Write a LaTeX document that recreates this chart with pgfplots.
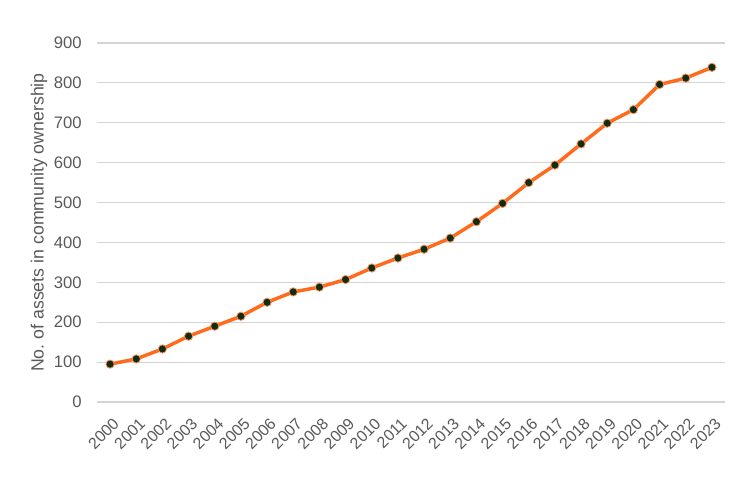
\documentclass[border=0pt]{standalone}
\usepackage{pgfplots}
\pgfplotsset{compat=1.18}
\usepackage{fontspec}
\setmainfont{Liberation Sans}

\definecolor{lineorange}{HTML}{FF6A1C}
\definecolor{dotgreen}{HTML}{0E2E14}
\definecolor{textgray}{HTML}{595959}
\definecolor{gridgray}{HTML}{D4D4D4}

\begin{document}
\begin{tikzpicture}
\begin{axis}[
    scale only axis,
    width=471pt, height=269.25pt,
    xmin=-0.5, xmax=23.5,
    ymin=0, ymax=900,
    ytick={0,100,...,900},
    xtick={0,...,23},
    xticklabels={2000,2001,2002,2003,2004,2005,2006,2007,2008,2009,2010,2011,
                 2012,2013,2014,2015,2016,2017,2018,2019,2020,2021,2022,2023},
    x tick label style={yshift=-11pt, xshift=1.5pt, rotate=45, anchor=north east, inner sep=0pt,
        font=\fontsize{12}{14}\selectfont},
    y tick label style={xshift=-8pt, font=\fontsize{12.5}{14}\selectfont},
    ticklabel style={text=textgray},
    /pgf/number format/assume math mode=true,
    axis line style={draw=none},
    major tick length=0pt,
    ymajorgrids,
    grid style={gridgray, line width=0.8pt},
    ylabel={No.\ of assets in community ownership},
    ylabel style={font=\fontsize{13.3}{15}\selectfont, text=textgray, yshift=-2pt},
    clip=false,
]
\addplot[color=lineorange, line width=2.6pt, mark=*, mark size=3.1pt,
    mark options={fill=dotgreen, draw=lineorange!75, line width=0.6pt}]
coordinates {
(0,95) (1,108) (2,133) (3,165) (4,190) (5,215) (6,250) (7,276)
(8,288) (9,307) (10,336) (11,361) (12,383) (13,411) (14,452) (15,498)
(16,550) (17,594) (18,647) (19,699) (20,733) (21,796) (22,812) (23,839)
};
\end{axis}
\pgfresetboundingbox
\useasboundingbox (-72.75pt,-58.5pt) rectangle (486pt,301.5pt);
\end{tikzpicture}
\end{document}
